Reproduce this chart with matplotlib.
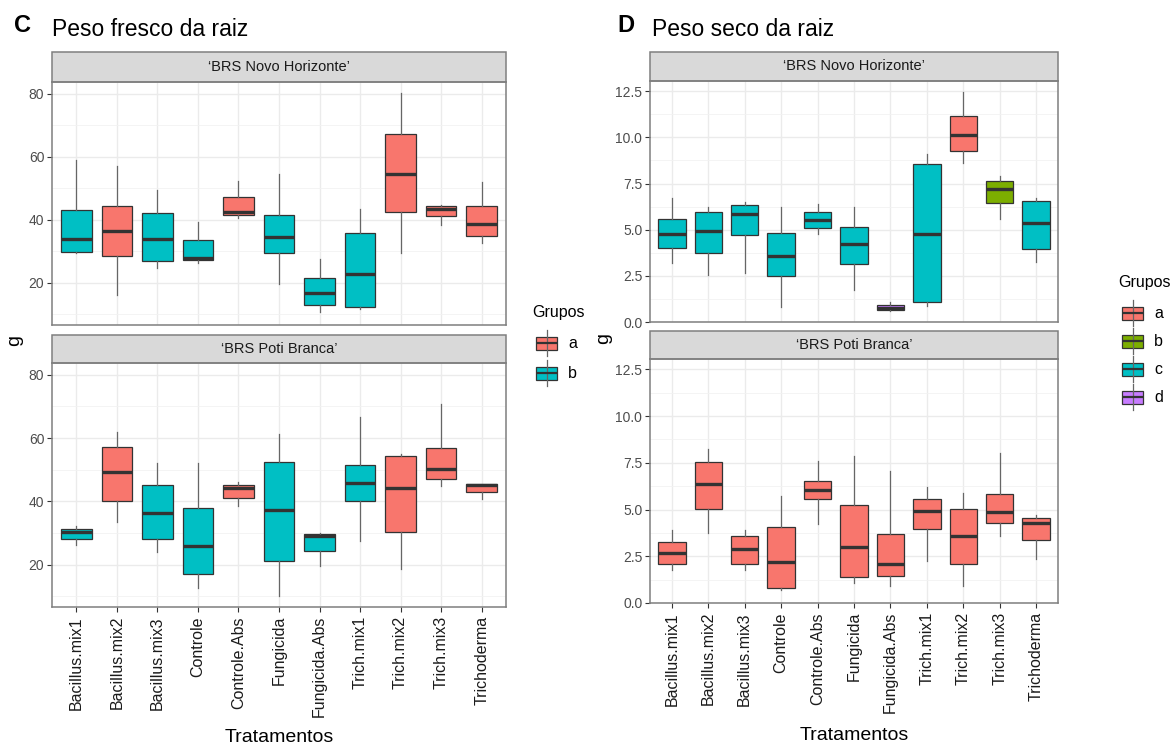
import matplotlib.pyplot as plt
from matplotlib.patches import Rectangle

plt.rcParams['font.family'] = ['Liberation Sans', 'DejaVu Sans']

tratamentos = ["Bacillus.mix1", "Bacillus.mix2", "Bacillus.mix3", "Controle",
               "Controle.Abs", "Fungicida", "Fungicida.Abs", "Trich.mix1",
               "Trich.mix2", "Trich.mix3", "Trichoderma"]

# cada tupla: (bigode inferior, Q1, mediana, Q3, bigode superior)
fresco_novo = [(29.5, 29.9, 33.9, 43.1, 58.8), (16.1, 28.5, 36.4, 44.4, 57.2),
               (24.8, 26.8, 33.9, 42.2, 49.3), (26.3, 27.3, 27.8, 33.7, 39.3),
               (40.6, 41.4, 42.6, 47.3, 52.2), (19.5, 29.3, 34.6, 41.6, 54.4),
               (10.8, 13.1, 16.7, 21.5, 27.4), (11.7, 12.3, 22.9, 35.8, 43.5),
               (29.5, 42.6, 54.5, 67.1, 80.2), (38.4, 41.2, 43.4, 44.3, 44.7),
               (32.5, 34.7, 38.7, 44.4, 52.1)]
fresco_novo_grupos = ["b", "a", "b", "b", "a", "b", "b", "b", "a", "a", "a"]

fresco_poti = [(26.3, 28.2, 30.4, 31.3, 32.3), (33.6, 40.1, 49.2, 57.3, 61.8),
               (23.9, 28.2, 36.2, 45.1, 52.2), (12.5, 17.1, 25.9, 38.0, 52.2),
               (38.4, 41.1, 44.1, 45.1, 46.1), (10.1, 21.1, 37.3, 52.3, 61.2),
               (19.4, 24.2, 28.9, 29.6, 30.0), (27.4, 40.2, 45.8, 51.4, 66.7),
               (18.6, 30.4, 44.3, 54.2, 54.8), (44.8, 47.1, 50.1, 56.7, 70.9),
               (40.8, 42.9, 45.1, 45.5, 45.6)]
fresco_poti_grupos = ["b", "a", "b", "b", "a", "b", "b", "b", "a", "a", "a"]

seco_novo = [(3.17, 4.02, 4.75, 5.60, 6.74), (2.54, 3.73, 4.95, 5.94, 6.21),
             (2.66, 4.69, 5.83, 6.36, 6.49), (0.82, 2.50, 3.59, 4.84, 6.21),
             (4.75, 5.09, 5.53, 5.94, 6.41), (1.72, 3.15, 4.20, 5.16, 6.21),
             (0.60, 0.67, 0.74, 0.92, 1.10), (0.89, 1.07, 4.75, 8.57, 9.09),
             (8.60, 9.28, 10.14, 11.14, 12.46), (5.60, 6.43, 7.21, 7.61, 7.93),
             (3.26, 3.93, 5.36, 6.56, 6.74)]
seco_novo_grupos = ["c", "c", "c", "c", "c", "c", "d", "c", "a", "b", "c"]

seco_poti = [(1.79, 2.10, 2.67, 3.24, 3.89), (3.76, 5.03, 6.36, 7.52, 8.24),
             (1.74, 2.06, 2.87, 3.56, 3.89), (0.70, 0.79, 2.18, 4.08, 5.73),
             (4.24, 5.55, 6.07, 6.54, 7.58), (1.07, 1.40, 2.99, 5.25, 7.86),
             (0.93, 1.45, 2.10, 3.71, 7.06), (2.24, 3.94, 4.93, 5.55, 6.21),
             (0.90, 2.06, 3.56, 5.03, 5.87), (3.56, 4.26, 4.85, 5.84, 8.04),
             (2.37, 3.35, 4.28, 4.57, 4.71)]
seco_poti_grupos = ["a"] * 11

cores_c = {"a": "#F8766D", "b": "#00BFC4"}
cores_d = {"a": "#F8766D", "b": "#7CAE00", "c": "#00BFC4", "d": "#C77CFF"}

W, H = 1173, 746
fig = plt.figure(figsize=(W / 100, H / 100), dpi=100)

CINZA_BORDA = "#7F7F7F"
ESCURO = "#333333"


def eixo_px(x0, y0, x1, y1):
    return fig.add_axes([x0 / W, 1 - y1 / H, (x1 - x0) / W, (y1 - y0) / H])


def limites(*listas):
    vals = [v for lista in listas for t in lista for v in t]
    lo, hi = min(vals), max(vals)
    pad = (hi - lo) * 0.05
    return lo - pad, hi + pad


def faceta(ax, dados, grupos, cores, rotulo, ylim, yticks, fmt, strip_px, mostra_x):
    stats = []
    for (lo, q1, med, q3, hi), nome in zip(dados, tratamentos):
        stats.append(dict(whislo=lo, q1=q1, med=med, q3=q3, whishi=hi,
                          fliers=[], label=nome))
    pos = list(range(1, len(stats) + 1))
    art = ax.bxp(stats, positions=pos, widths=0.75, patch_artist=True,
                 showfliers=False, showcaps=False,
                 boxprops=dict(edgecolor=ESCURO, linewidth=0.9),
                 whiskerprops=dict(color="#666666", linewidth=0.9),
                 medianprops=dict(color=ESCURO, linewidth=2.4, solid_capstyle="butt"),
                 zorder=3)
    for caixa, g in zip(art["boxes"], grupos):
        caixa.set_facecolor(cores[g])

    ax.set_xlim(0.4, len(stats) + 0.6)
    ax.set_ylim(*ylim)
    ax.set_yticks(yticks)
    ax.set_yticklabels([fmt % v for v in yticks])
    passo = yticks[1] - yticks[0]
    menores = [yticks[0] - passo / 2] + [t + passo / 2 for t in yticks]
    ax.set_yticks([m for m in menores if ylim[0] < m < ylim[1]], minor=True)
    ax.tick_params(axis="y", which="minor", length=0)
    ax.grid(True, which="major", color="#EBEBEB", linewidth=1.0, zorder=0)
    ax.grid(True, which="minor", axis="y", color="#F2F2F2", linewidth=0.6, zorder=0)
    ax.set_axisbelow(True)
    ax.tick_params(axis="y", which="major", length=3.5, width=0.8, color=ESCURO,
                   labelsize=10, labelcolor="#4D4D4D", pad=2)
    ax.set_xticks(pos)
    if mostra_x:
        ax.set_xticklabels(tratamentos, rotation=90, fontsize=11.5, color="#1A1A1A")
        ax.tick_params(axis="x", length=3.5, width=0.8, color=ESCURO, pad=3)
    else:
        ax.set_xticklabels([])
        ax.tick_params(axis="x", length=0)
    for s in ax.spines.values():
        s.set_color(CINZA_BORDA)
        s.set_linewidth(1.1)
        s.set_zorder(5)

    alt_px = ax.get_position().height * H
    sh = strip_px / alt_px
    ax.add_patch(Rectangle((0, 1), 1, sh, transform=ax.transAxes, clip_on=False,
                           facecolor="#D9D9D9", edgecolor=CINZA_BORDA, linewidth=1.1,
                           zorder=4))
    ax.text(0.5, 1 + sh / 2, rotulo, transform=ax.transAxes, ha="center",
            va="center", fontsize=10.5, color="#1A1A1A", zorder=6)


# Painel C
ylim_c = limites(fresco_novo, fresco_poti)
ticks_c = [20, 40, 60, 80]
ax1 = eixo_px(52, 82, 506, 325)
faceta(ax1, fresco_novo, fresco_novo_grupos, cores_c, "\u2018BRS Novo Horizonte\u2019",
       ylim_c, ticks_c, "%d", 30, False)
ax2 = eixo_px(52, 363, 506, 607)
faceta(ax2, fresco_poti, fresco_poti_grupos, cores_c, "\u2018BRS Poti Branca\u2019",
       ylim_c, ticks_c, "%d", 28, True)

# Painel D
ylim_d = limites(seco_novo, seco_poti)
ticks_d = [0.0, 2.5, 5.0, 7.5, 10.0, 12.5]
ax3 = eixo_px(650, 81, 1058, 322)
faceta(ax3, seco_novo, seco_novo_grupos, cores_d, "\u2018BRS Novo Horizonte\u2019",
       ylim_d, ticks_d, "%.1f", 29, False)
ax4 = eixo_px(650, 359, 1058, 603)
faceta(ax4, seco_poti, seco_poti_grupos, cores_d, "\u2018BRS Poti Branca\u2019",
       ylim_d, ticks_d, "%.1f", 28, True)


def ftxt(x, y, s, **kw):
    fig.text(x / W, 1 - y / H, s, **kw)


ftxt(14, 26, "C", fontsize=17, fontweight="bold", va="center")
ftxt(52, 29, "Peso fresco da raiz", fontsize=16.5, va="center")
ftxt(617, 26, "D", fontsize=17, fontweight="bold", va="center")
ftxt(652, 29, "Peso seco da raiz", fontsize=16.5, va="center")

ftxt(15, 340, "g", fontsize=14, rotation=90, ha="center", va="center")
ftxt(604, 338, "g", fontsize=14, rotation=90, ha="center", va="center")
ftxt(279, 737, "Tratamentos", fontsize=14, ha="center", va="center")
ftxt(854, 736, "Tratamentos", fontsize=14, ha="center", va="center")

# legendas desenhadas em coordenadas de pixel
ov = fig.add_axes([0, 0, 1, 1])
ov.set_xlim(0, W)
ov.set_ylim(H, 0)
ov.axis("off")


def legenda(x, y_titulo, ys, cores):
    ov.text(x - 4, y_titulo, "Grupos", fontsize=11.5, va="center", ha="left")
    for y, (g, c) in zip(ys, cores.items()):
        ov.plot([x + 10.5, x + 10.5], [y - 13, y + 13], color="#666666", lw=0.9)
        ov.add_patch(Rectangle((x, y - 6.5), 21, 13, facecolor=c,
                               edgecolor=ESCURO, linewidth=0.9))
        ov.plot([x, x + 21], [y, y], color=ESCURO, lw=1.6, solid_capstyle="butt")
        ov.text(x + 32, y, g, fontsize=11.5, va="center", ha="left")


legenda(536, 313, [343, 373], cores_c)
legenda(1122, 283, [313, 341, 369, 397], cores_d)

fig.savefig("out.png", dpi=100, facecolor="white")
